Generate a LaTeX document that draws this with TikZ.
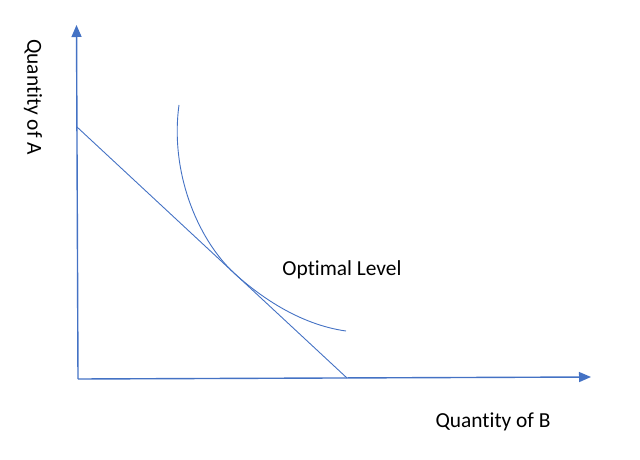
\documentclass[tikz,border=0pt]{standalone}
\usepackage{fontspec}
\setmainfont[Ligatures=NoCommon]{Carlito}
\usetikzlibrary{arrows.meta}
\definecolor{officeblue}{HTML}{4472C4}
\tikzset{
  axisline/.style={draw=officeblue, line width=1.4pt, -{Triangle[length=12pt,width=10pt]}},
  thinline/.style={draw=officeblue, line width=0.9pt},
  lbl/.style={font=\fontsize{21.4}{25}\selectfont, text=black, inner sep=0pt}
}
\begin{document}
\begin{tikzpicture}[x=1pt,y=-1pt]
\useasboundingbox (0,0) rectangle (640,460);
\coordinate (O) at (78,379);
\coordinate (ytop) at (76.5,25);
\coordinate (xtip) at (591,377);
\coordinate (bA) at (77,127);
\coordinate (bB) at (347,378);
\coordinate (c0) at (179,105);
\coordinate (cT) at (235,274);
\coordinate (c1) at (346,331);
\draw[axisline] (O) -- (ytop);
\draw[axisline] (O) -- (xtip);
\draw[thinline] (bA) -- (bB);
\draw[thinline] (c0) .. controls (170,170) and (196,238) .. (cT)
  .. controls (272,307) and (310,326) .. (c1);
\node[lbl] (opt) at (342,270) {Optimal Level};
\node[lbl] (qb) at (493,422) {Quantity of B};
\node[lbl, rotate=-90] (qa) at (33,97) {Quantity of A};
\end{tikzpicture}
\end{document}
